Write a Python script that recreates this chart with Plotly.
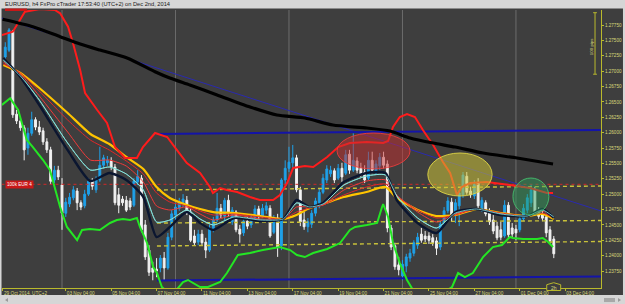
import plotly.graph_objects as go

# ---------------- data (bar index: 0 = Mon 03 Nov 2014 00:00, h4 bars) ----------------
bar_index = list(range(-15, 131))
opens = [1.2723, 1.2734, 1.2765, 1.2630, 1.2619, 1.2608, 1.2575, 1.2599, 1.2621, 1.2609,
         1.2603, 1.2585, 1.2572, 1.2523, 1.2539, 1.2515, 1.2469, 1.2484, 1.2494, 1.2505,
         1.2486, 1.2481, 1.2500, 1.2521, 1.2507, 1.2523, 1.2547, 1.2551, 1.2554, 1.2544,
         1.2499, 1.2492, 1.2490, 1.2489, 1.2482, 1.2520, 1.2526, 1.2450, 1.2409, 1.2380,
         1.2378, 1.2380, 1.2396, 1.2380, 1.2430, 1.2466, 1.2477, 1.2486, 1.2490, 1.2471,
         1.2432, 1.2422, 1.2435, 1.2422, 1.2409, 1.2443, 1.2458, 1.2477, 1.2464, 1.2490,
         1.2455, 1.2471, 1.2443, 1.2437, 1.2456, 1.2450, 1.2461, 1.2476, 1.2464, 1.2474,
         1.2477, 1.2438, 1.2461, 1.2416, 1.2523, 1.2542, 1.2551, 1.2559, 1.2507, 1.2458,
         1.2447, 1.2451, 1.2469, 1.2486, 1.2503, 1.2523, 1.2533, 1.2538, 1.2526, 1.2542,
         1.2534, 1.2565, 1.2539, 1.2554, 1.2542, 1.2536, 1.2526, 1.2555, 1.2536, 1.2546,
         1.2560, 1.2549, 1.2445, 1.2416, 1.2385, 1.2367, 1.2383, 1.2396, 1.2404, 1.2417,
         1.2435, 1.2432, 1.2432, 1.2429, 1.2424, 1.2414, 1.2451, 1.2473, 1.2487, 1.2466,
         1.2481, 1.2499, 1.2529, 1.2505, 1.2497, 1.2518, 1.2476, 1.2486, 1.2469, 1.2458,
         1.2448, 1.2442, 1.2432, 1.2482, 1.2445, 1.2443, 1.2442, 1.2460, 1.2474, 1.2486,
         1.2507, 1.2474, 1.2468, 1.2463, 1.2442, 1.2427]
highs = [1.2747, 1.2770, 1.2767, 1.2637, 1.2624, 1.2612, 1.2608, 1.2634, 1.2625, 1.2619,
         1.2608, 1.2591, 1.2577, 1.2546, 1.2546, 1.2526, 1.2494, 1.2502, 1.2513, 1.2510,
         1.2490, 1.2507, 1.2526, 1.2526, 1.2529, 1.2577, 1.2564, 1.2562, 1.2560, 1.2549,
         1.2510, 1.2497, 1.2497, 1.2494, 1.2526, 1.2539, 1.2531, 1.2458, 1.2417, 1.2390,
         1.2396, 1.2401, 1.2406, 1.2437, 1.2474, 1.2486, 1.2494, 1.2500, 1.2497, 1.2477,
         1.2442, 1.2442, 1.2442, 1.2429, 1.2450, 1.2463, 1.2502, 1.2484, 1.2494, 1.2499,
         1.2479, 1.2474, 1.2450, 1.2461, 1.2463, 1.2468, 1.2482, 1.2481, 1.2484, 1.2487,
         1.2482, 1.2466, 1.2468, 1.2526, 1.2555, 1.2577, 1.2580, 1.2564, 1.2512, 1.2471,
         1.2461, 1.2474, 1.2494, 1.2510, 1.2533, 1.2547, 1.2546, 1.2542, 1.2549, 1.2551,
         1.2572, 1.2572, 1.2599, 1.2560, 1.2551, 1.2547, 1.2569, 1.2569, 1.2555, 1.2567,
         1.2569, 1.2555, 1.2450, 1.2421, 1.2398, 1.2393, 1.2403, 1.2411, 1.2425, 1.2437,
         1.2445, 1.2440, 1.2438, 1.2435, 1.2430, 1.2456, 1.2479, 1.2495, 1.2494, 1.2492,
         1.2507, 1.2536, 1.2536, 1.2512, 1.2523, 1.2526, 1.2495, 1.2490, 1.2477, 1.2466,
         1.2455, 1.2455, 1.2490, 1.2487, 1.2453, 1.2450, 1.2466, 1.2484, 1.2500, 1.2516,
         1.2512, 1.2479, 1.2473, 1.2468, 1.2448, 1.2432]
lows = [1.2715, 1.2731, 1.2624, 1.2614, 1.2603, 1.2555, 1.2564, 1.2595, 1.2604, 1.2596,
        1.2580, 1.2567, 1.2516, 1.2518, 1.2523, 1.2442, 1.2463, 1.2479, 1.2490, 1.2474,
        1.2474, 1.2477, 1.2497, 1.2507, 1.2502, 1.2520, 1.2542, 1.2546, 1.2539, 1.2482,
        1.2469, 1.2481, 1.2471, 1.2474, 1.2479, 1.2515, 1.2438, 1.2393, 1.2367, 1.2360,
        1.2365, 1.2373, 1.2360, 1.2377, 1.2425, 1.2458, 1.2473, 1.2479, 1.2466, 1.2422,
        1.2416, 1.2417, 1.2416, 1.2396, 1.2406, 1.2438, 1.2455, 1.2461, 1.2458, 1.2464,
        1.2450, 1.2438, 1.2421, 1.2432, 1.2443, 1.2445, 1.2458, 1.2458, 1.2461, 1.2468,
        1.2429, 1.2435, 1.2398, 1.2409, 1.2516, 1.2536, 1.2539, 1.2503, 1.2448, 1.2442,
        1.2438, 1.2445, 1.2464, 1.2477, 1.2500, 1.2518, 1.2528, 1.2518, 1.2523, 1.2520,
        1.2531, 1.2533, 1.2536, 1.2534, 1.2528, 1.2518, 1.2523, 1.2534, 1.2531, 1.2539,
        1.2542, 1.2438, 1.2409, 1.2377, 1.2368, 1.2360, 1.2373, 1.2390, 1.2399, 1.2411,
        1.2421, 1.2422, 1.2419, 1.2416, 1.2401, 1.2409, 1.2448, 1.2469, 1.2455, 1.2453,
        1.2448, 1.2494, 1.2499, 1.2494, 1.2492, 1.2476, 1.2471, 1.2464, 1.2450, 1.2435,
        1.2425, 1.2425, 1.2429, 1.2429, 1.2430, 1.2425, 1.2438, 1.2456, 1.2469, 1.2479,
        1.2468, 1.2460, 1.2456, 1.2430, 1.2419, 1.2396]
closes = [1.2739, 1.2767, 1.2629, 1.2619, 1.2608, 1.2572, 1.2599, 1.2621, 1.2609, 1.2601,
          1.2585, 1.2572, 1.2521, 1.2539, 1.2528, 1.2469, 1.2487, 1.2495, 1.2507, 1.2486,
          1.2479, 1.2500, 1.2521, 1.2513, 1.2523, 1.2547, 1.2559, 1.2555, 1.2544, 1.2486,
          1.2482, 1.2486, 1.2474, 1.2479, 1.2521, 1.2529, 1.2442, 1.2398, 1.2373, 1.2373,
          1.2375, 1.2396, 1.2380, 1.2430, 1.2468, 1.2479, 1.2487, 1.2492, 1.2469, 1.2425,
          1.2421, 1.2435, 1.2421, 1.2409, 1.2445, 1.2458, 1.2477, 1.2466, 1.2490, 1.2469,
          1.2474, 1.2442, 1.2435, 1.2456, 1.2448, 1.2463, 1.2476, 1.2463, 1.2477, 1.2481,
          1.2432, 1.2461, 1.2414, 1.2523, 1.2542, 1.2552, 1.2559, 1.2507, 1.2455, 1.2447,
          1.2455, 1.2469, 1.2489, 1.2503, 1.2526, 1.2541, 1.2539, 1.2523, 1.2542, 1.2528,
          1.2564, 1.2539, 1.2555, 1.2539, 1.2533, 1.2523, 1.2555, 1.2539, 1.2549, 1.2560,
          1.2547, 1.2445, 1.2414, 1.2382, 1.2377, 1.2386, 1.2398, 1.2404, 1.2421, 1.2430,
          1.2425, 1.2427, 1.2425, 1.2421, 1.2412, 1.2451, 1.2473, 1.2489, 1.2466, 1.2486,
          1.2502, 1.2531, 1.2503, 1.2499, 1.2516, 1.2481, 1.2490, 1.2468, 1.2455, 1.2440,
          1.2429, 1.2430, 1.2482, 1.2434, 1.2435, 1.2437, 1.2460, 1.2477, 1.2494, 1.2507,
          1.2471, 1.2464, 1.2461, 1.2437, 1.2424, 1.2403]

# moving-average ribbon (at sample bars)
ribbon_x = [-15.5, -11, -6, 1.5, 7.5, 12.5, 17, 21.5, 25, 28.5, 33, 36.5, 40, 45.5, 52.5, 58.5,
            62, 65.5, 69, 74.5, 80.5, 85.5, 88.5, 94, 99, 104, 109.5, 116, 123, 127, 130]
ema_fast_navy = [1.27213, 1.26904, 1.26449, 1.25717, 1.25213, 1.25344, 1.25230, 1.24953, 1.24303, 1.24466,
                 1.24709, 1.24531, 1.24417, 1.24612, 1.24563, 1.24596, 1.24905, 1.24791, 1.24856, 1.25197,
                 1.25344, 1.25344, 1.24905, 1.24531, 1.24368, 1.24709, 1.24758, 1.24661, 1.24644, 1.24758, 1.24612]
ema_cyan = [1.27181, 1.26921, 1.26530, 1.25831, 1.25392, 1.25441, 1.25327, 1.25067, 1.24547, 1.24579,
            1.24742, 1.24596, 1.24498, 1.24628, 1.24579, 1.24596, 1.24856, 1.24791, 1.24840, 1.25148,
            1.25295, 1.25311, 1.24970, 1.24612, 1.24449, 1.24693, 1.24758, 1.24677, 1.24644, 1.24742, 1.24628]
ema_red_fast = [1.27148, 1.26953, 1.26596, 1.26010, 1.25555, 1.25555, 1.25457, 1.25197, 1.24807, 1.24742,
                1.24791, 1.24677, 1.24579, 1.24661, 1.24596, 1.24596, 1.24791, 1.24791, 1.24823, 1.25067,
                1.25213, 1.25230, 1.24986, 1.24709, 1.24547, 1.24677, 1.24758, 1.24677, 1.24644, 1.24726, 1.24628]
ema_red_slow = [1.27116, 1.26970, 1.26677, 1.26205, 1.25880, 1.25717, 1.25539, 1.25327, 1.25018, 1.24872,
                1.24807, 1.24726, 1.24661, 1.24677, 1.24628, 1.24596, 1.24709, 1.24774, 1.24823, 1.24986,
                1.25116, 1.25165, 1.24970, 1.24742, 1.24612, 1.24661, 1.24758, 1.24693, 1.24644, 1.24693, 1.24612]
ma_yellow = [1.27100, 1.26970, 1.26726, 1.26319, 1.25978, 1.25815, 1.25604, 1.25409, 1.25116, 1.24937,
             1.24823, 1.24758, 1.24709, 1.24693, 1.24644, 1.24596, 1.24661, 1.24774, 1.24840, 1.24953,
             1.25035, 1.25116, 1.24937, 1.24742, 1.24644, 1.24661, 1.24758, 1.24693, 1.24644, 1.24677, 1.24596]

ma200_x = [-15.7, -7.7, -0.5, 4.8, 10.0, 17.2, 24.6, 28.5, 33.8, 41.0, 49.7, 56.8, 64.2, 71.6, 80.6,
           86.7, 92.0, 98.1, 103.9, 111.3, 120.3, 129.8]
ma200_y = [1.27843, 1.27722, 1.27560, 1.27441, 1.27343, 1.27213, 1.26991, 1.26888, 1.26774, 1.26612,
           1.26417, 1.26287, 1.26238, 1.26124, 1.26075, 1.26026, 1.25913, 1.25831, 1.25766, 1.25669,
           1.25587, 1.25490]

upper_band_x = [-15.9, -13.0, -9.8, -5.8, -1.9, -0.5, 1.6, 2.9, 4.8, 6.1, 9.3, 11.9, 14.0, 16.7, 19.8,
                21.4, 24.6, 27.8, 30.4, 33.0, 36.5, 39.1, 39.9, 41.8, 43.6, 46.3, 49.7, 52.3, 55.8, 57.6,
                59.5, 61.1, 64.2, 66.4, 70.1, 73.0, 76.1, 80.6, 84.9, 86.2, 87.5, 89.3, 91.2, 93.3, 95.4,
                98.1, 100.7, 102.6, 104.4, 105.7, 107.9, 112.3, 118.4, 123.7, 128.2, 129.8]
upper_band_y = [1.27587, 1.27641, 1.27966, 1.28010, 1.27994, 1.27940, 1.27722, 1.27457, 1.27018, 1.26644,
                1.26368, 1.26157, 1.25766, 1.25587, 1.25587, 1.25766, 1.25994, 1.25929, 1.25717, 1.25506,
                1.25344, 1.25116, 1.25018, 1.25100, 1.25067, 1.25035, 1.24953, 1.24905, 1.24905, 1.24986,
                1.25181, 1.25425, 1.25457, 1.25441, 1.25604, 1.25766, 1.25831, 1.25848, 1.25831, 1.25864,
                1.26091, 1.26254, 1.26303, 1.26254, 1.26043, 1.25799, 1.25522, 1.25344, 1.24986, 1.25116,
                1.25181, 1.25197, 1.25148, 1.25100, 1.25018, 1.25018]

lower_band_x = [-15.9, -13.7, -11.6, -9.3, -7.7, -5.0, -3.2, -1.9, -0.5, 1.3, 4.0, 5.3, 7.4, 10.0, 12.7,
                14.5, 16.1, 18.0, 19.8, 20.6, 22.5, 24.1, 25.1, 26.4, 29.0, 32.0, 33.3, 36.5, 38.6, 41.8,
                43.6, 46.5, 49.7, 53.1, 57.6, 60.3, 62.1, 64.2, 66.4, 70.1, 73.5, 76.1, 77.5, 80.6, 83.3,
                84.6, 84.9, 86.2, 87.5, 89.3, 91.2, 92.8, 97.0, 101.2, 103.1, 104.7, 106.5, 108.6, 111.3,
                113.9, 116.3, 118.4, 119.2, 121.9, 125.6, 127.1, 128.5, 129.8]
lower_band_y = [1.26449, 1.26558, 1.26368, 1.25880, 1.25766, 1.25555, 1.25392, 1.25116, 1.24791, 1.24466,
                1.24254, 1.24417, 1.24433, 1.24417, 1.24531, 1.24579, 1.24596, 1.24579, 1.24612, 1.24466,
                1.24205, 1.23815, 1.23717, 1.23490, 1.23350, 1.23571, 1.23604, 1.23490, 1.23490, 1.23571,
                1.23717, 1.24010, 1.24043, 1.24091, 1.24140, 1.24091, 1.24010, 1.23977, 1.24043, 1.24108,
                1.24205, 1.24417, 1.24466, 1.24498, 1.24531, 1.24791, 1.24840, 1.24628, 1.24205, 1.23880,
                1.23604, 1.23440, 1.23300, 1.23410, 1.23490, 1.23717, 1.23652, 1.23717, 1.23977, 1.24140,
                1.24173, 1.24303, 1.24287, 1.24270, 1.24270, 1.24287, 1.24222, 1.24140]

# drawn trend / channel lines: [start bar, end bar], [start price, end price]
trend_diag_x, trend_diag_y = [-16, 142.5], [1.27864, 1.24726]
channel_x = [25.1, 142.5]
channel_top_blue = [1.25978, 1.26043]
channel_bottom_blue = [1.23596, 1.23661]
dashed_levels = [[1.25067, 1.25132], [1.24531, 1.24571], [1.24157, 1.24230]]
order_level = 1.2516
order_label = "100k EUR 4"

# highlight ellipses: (bar0, bar1, price_low, price_high)
ellipses = [
    (72.7, 92.0, 1.25409, 1.25994, "rgba(200,45,45,0.50)", "rgba(235,60,60,0.9)"),
    (96.7, 113.7, 1.24970, 1.25669, "rgba(205,195,55,0.55)", "rgba(225,215,70,0.9)"),
    (119.2, 128.7, 1.24661, 1.25262, "rgba(45,160,90,0.45)", "rgba(70,190,110,0.9)"),
]

week_start_bars = [0, 30, 60, 90, 120]
x_tick_bars = [-15.6, 1, 13, 25, 37, 49, 61, 73, 85, 97, 109, 121, 133]
x_tick_text = ["29 Oct 2014, UTC+2", "03 Nov 04:00", "05 Nov 04:00", "07 Nov 04:00", "11 Nov 04:00",
               "13 Nov 04:00", "17 Nov 04:00", "19 Nov 04:00", "21 Nov 04:00", "25 Nov 04:00",
               "27 Nov 04:00", "01 Dec 04:00", "03 Dec 04:00"]
y_tick_vals = [1.2375, 1.2400, 1.2425, 1.2450, 1.2475, 1.2500, 1.2525, 1.2550, 1.2575, 1.2600,
               1.2625, 1.2650, 1.2675, 1.2700, 1.2725, 1.2750, 1.2775]
pips_scale = (1.2695, 1.2795, "100 pips")
title_text = "EURUSD, h4 FxPro cTrader 17:53:40 (UTC+2) on Dec 2nd, 2014"

# ---------------- styling ----------------
DARK = "#3e3e3e"
FRAME = "#d6d6d6"
AXIS_Y = "#b9b92c"
LABEL_Y = "#d9d97a"
FONT = "Liberation Sans"

fig = go.Figure()

# candles
fig.add_trace(go.Candlestick(
    x=bar_index, open=opens, high=highs, low=lows, close=closes,
    increasing=dict(line=dict(color="#1fa0e8", width=1), fillcolor="#1fa0e8"),
    decreasing=dict(line=dict(color="#f2f2f2", width=1), fillcolor="#f2f2f2"),
    whiskerwidth=0, hoverinfo="skip"))

def line(x, y, color, width, dash=None, shape="linear"):
    fig.add_trace(go.Scatter(x=x, y=y, mode="lines", hoverinfo="skip",
                             line=dict(color=color, width=width, dash=dash, shape=shape,
                                       smoothing=0.6 if shape == "spline" else None)))

# channel / trend lines
line(trend_diag_x, trend_diag_y, "#2a2ab0", 1)
line(channel_x, channel_top_blue, "#1414a8", 2)
line(channel_x, channel_bottom_blue, "#1414a8", 2)
for lv in dashed_levels:
    line(channel_x, lv, "#c9c23a", 1.4, dash="4px,3px")
line([-16, 142.5], [order_level, order_level], "#d02828", 1, dash="dot")

# ribbon
line(ribbon_x, ma_yellow, "#ffc400", 2.2, shape="spline")
line(ribbon_x, ema_red_slow, "#e02828", 1, shape="spline")
line(ribbon_x, ema_red_fast, "#ef3a3a", 1, shape="spline")
line(ribbon_x, ema_cyan, "#6fd6d0", 1, shape="spline")
line(ribbon_x, ema_fast_navy, "#0b1630", 2.4, shape="spline")
line(ribbon_x, ema_cyan, "#8ee6e0", 0.8, shape="spline")

# bands and long MA
line(upper_band_x, upper_band_y, "#ff1c1c", 2)
line(lower_band_x, lower_band_y, "#24e624", 2)
line(ma200_x, ma200_y, "#000000", 3.2, shape="spline")

shapes = []
# weekly separators
for b in week_start_bars:
    shapes.append(dict(type="line", xref="x", yref="paper", x0=b, x1=b, y0=0, y1=1,
                       line=dict(color="#6c6c6c", width=1), layer="below"))
# highlight ellipses
for x0, x1, y0, y1, fc, lc in ellipses:
    shapes.append(dict(type="circle", xref="x", yref="y", x0=x0, x1=x1, y0=y0, y1=y1,
                       fillcolor=fc, line=dict(color=lc, width=1), layer="above"))
# pips scale bracket
pb_lo, pb_hi, pb_txt = pips_scale
shapes.append(dict(type="line", xref="x", yref="y", x0=140.9, x1=140.9, y0=pb_lo, y1=pb_hi,
                   line=dict(color=AXIS_Y, width=1)))
for v in (pb_lo, pb_hi):
    shapes.append(dict(type="line", xref="x", yref="y", x0=140.4, x1=141.4, y0=v, y1=v,
                       line=dict(color=AXIS_Y, width=1)))
# window frame (light grey borders, title bar)
shapes += [
    dict(type="rect", xref="paper", yref="paper", x0=-0.02, x1=1.06, y0=1.0054, y1=1.06,
         fillcolor=FRAME, line=dict(width=0), layer="above"),
    dict(type="rect", xref="paper", yref="paper", x0=-0.02, x1=-0.0008, y0=-0.07, y1=1.06,
         fillcolor=FRAME, line=dict(width=0), layer="above"),
    dict(type="rect", xref="paper", yref="paper", x0=1.0367, x1=1.06, y0=-0.07, y1=1.06,
         fillcolor=FRAME, line=dict(width=0), layer="above"),
    dict(type="rect", xref="paper", yref="paper", x0=-0.02, x1=1.06, y0=-0.07, y1=-0.0252,
         fillcolor=FRAME, line=dict(width=0), layer="above"),
    # scrollbar thumb and arrows
    dict(type="rect", xref="paper", yref="paper", x0=1.0050, x1=1.0234, y0=-0.0505, y1=-0.0360,
         fillcolor="#a8a8a8", line=dict(width=0), layer="above"),
    dict(type="path", xref="paper", yref="paper",
         path="M 0.0050,-0.0432 L 0.0100,-0.0360 L 0.0100,-0.0504 Z",
         fillcolor="#9a9a9a", line=dict(width=0), layer="above"),
    dict(type="path", xref="paper", yref="paper",
         path="M 1.0334,-0.0432 L 1.0284,-0.0360 L 1.0284,-0.0504 Z",
         fillcolor="#9a9a9a", line=dict(width=0), layer="above"),
    # partially hidden order tag at top-left
    dict(type="rect", xref="paper", yref="paper", x0=0.005, x1=0.0417, y0=0.9964, y1=1.0054,
         fillcolor="#c81818", line=dict(width=0), layer="above"),
    # current-bar timer tag on the time axis
    dict(type="path", xref="paper", yref="paper",
         path="M 0.9094,0.0119 L 0.9210,0.0191 L 0.9327,0.0119 L 0.9327,-0.0090 L 0.9094,-0.0090 Z",
         fillcolor=DARK, line=dict(color=AXIS_Y, width=1), layer="above"),
]

annotations = [
    dict(text=title_text, xref="paper", yref="paper", x=0.0017, y=1.0205, xanchor="left",
         yanchor="middle", showarrow=False, font=dict(family=FONT, size=5.7, color="#1a1a1a")),
    dict(text=order_label, xref="paper", yref="y", x=0.005, y=order_level, xanchor="left",
         yanchor="middle", showarrow=False, bgcolor="#c81818", borderpad=1,
         font=dict(family=FONT, size=4.6, color="#ffffff")),
    dict(text=pb_txt, xref="x", yref="y", x=140.0, y=(pb_lo + pb_hi) / 2 - 0.0005, textangle=-90,
         showarrow=False, font=dict(family=FONT, size=4.4, color=LABEL_Y)),
    dict(text="2h", xref="paper", yref="paper", x=0.9210, y=0.0015, xanchor="center", yanchor="middle",
         showarrow=False, font=dict(family=FONT, size=5, color=LABEL_Y)),
]

fig.update_layout(
    width=625, height=304,
    margin=dict(l=2, r=24, t=10, b=16, pad=0),
    paper_bgcolor=DARK, plot_bgcolor=DARK,
    showlegend=False,
    font=dict(family=FONT, size=5, color=LABEL_Y),
    shapes=shapes, annotations=annotations,
    xaxis=dict(range=[-15.86, 142.48], rangeslider=dict(visible=False), showgrid=False,
               zeroline=False, showline=True, linecolor=AXIS_Y, linewidth=1,
               tickmode="array", tickvals=x_tick_bars, ticktext=x_tick_text,
               ticks="outside", ticklen=2, tickcolor=AXIS_Y, ticklabelposition="outside right",
               tickfont=dict(family=FONT, size=4.7, color=LABEL_Y)),
    yaxis=dict(range=[1.23474, 1.27994], side="right", showgrid=False, zeroline=False,
               showline=True, linecolor=AXIS_Y, linewidth=1,
               tickmode="array", tickvals=y_tick_vals, tickformat=".5f",
               ticks="outside", ticklen=2, tickcolor=AXIS_Y,
               tickfont=dict(family=FONT, size=4.6, color=LABEL_Y)),
)

fig.write_html("out.html")
